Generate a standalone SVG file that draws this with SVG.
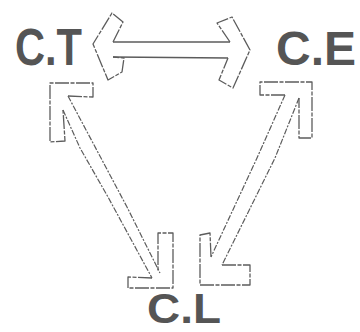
<svg xmlns="http://www.w3.org/2000/svg" width="360" height="332" viewBox="0 0 360 332">
<style>
.lbl{font-family:"Liberation Sans",Arial,sans-serif;font-weight:bold;fill:#555;}
.hd{fill:none;stroke:#5c5c5c;stroke-width:1.3;stroke-linejoin:round;stroke-dasharray:14 1.5 4 1.5;}
.sh{fill:none;stroke:#5c5c5c;stroke-width:1.3;}
.dg{fill:none;stroke:#5c5c5c;stroke-width:1.2;stroke-dasharray:6 1.5 2 1.5;}
</style>
<rect width="360" height="332" fill="#fff"/>
<g id="node-ct"><text class="lbl" x="15" y="65" font-size="51" textLength="67" lengthAdjust="spacingAndGlyphs">C.T</text></g>
<g id="node-ce"><text class="lbl" x="276" y="65" font-size="48">C.E</text></g>
<g id="node-cl"><text class="lbl" x="147" y="323" font-size="42" textLength="74" lengthAdjust="spacingAndGlyphs">C.L</text></g>
<g id="connectors">
  <g id="ct-ce">
    <path class="hd" d="M113,42 L123,22 L112,13 L93,44 L108,80 L122,72 L124,58 L113,57"/>
    <path class="hd" d="M230,42 L217,23 L232,17 L250,50 L233,88 L219,80 L228,58"/>
    <path class="sh" d="M113,42 L230,42 M113,57 L228,58"/>
  </g>
  <g id="ct-cl">
    <path class="hd" d="M68,96 L93,97 L93,83 L50,83 L50,142 L65,141 L63,110"/>
    <path class="hd" d="M152,278 L128,277 L128,288 L173,288 L173,233 L158,233 L158,272"/>
    <path class="dg" d="M63,110 L80,148 L108,197 L152,278 M68,96 L127,207 L160,273"/>
  </g>
  <g id="ce-cl">
    <path class="hd" d="M285,95 L260,95 L260,82 L312,82 L312,138 L299,138 L299,98"/>
    <path class="hd" d="M222,265 L250,265 L250,285 L200,285 L200,235 L210,233 L211,257"/>
    <path class="dg" d="M285,95 L257,158 L211,257 M299,98 L275,158 L222,265"/>
  </g>
</g>
</svg>
